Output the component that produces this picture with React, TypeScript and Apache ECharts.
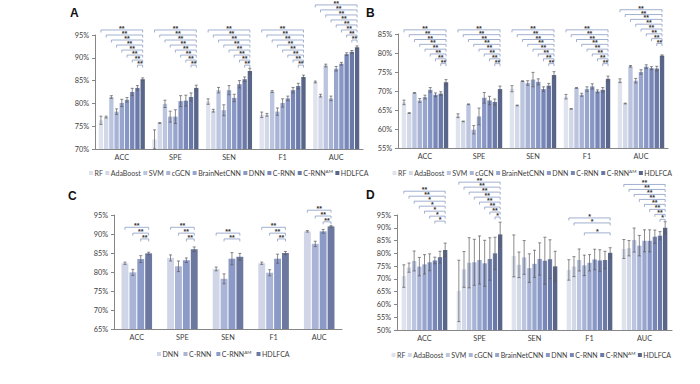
import React, { useEffect, useRef } from "react";
import * as echarts from "echarts";

const FONT = 'Lato, "Liberation Sans", sans-serif';

const metrics = ["ACC", "SPE", "SEN", "F1", "AUC"];
const methodsAll = ["RF", "AdaBoost", "SVM", "cGCN", "BrainNetCNN", "DNN", "C-RNN", "C-RNN^AM", "HDLFCA"];
const methodsC = ["DNN", "C-RNN", "C-RNN^AM", "HDLFCA"];

// rows = metrics (ACC, SPE, SEN, F1, AUC), columns = methods
const valuesA = [
  [76.3, 77.0, 81.4, 78.2, 80.1, 80.8, 82.5, 83.4, 85.3],
  [72.1, 75.7, 79.9, 77.1, 77.1, 80.5, 80.6, 81.4, 83.4],
  [80.4, 78.4, 82.9, 78.5, 82.9, 81.2, 84.2, 85.3, 87.1],
  [77.5, 77.5, 82.6, 78.2, 80.1, 81.1, 82.9, 83.8, 85.8],
  [84.7, 81.7, 88.3, 81.1, 87.6, 88.7, 90.8, 91.3, 92.3],
];
const errorsA = [
  [0.9, 0.2, 0.3, 0.6, 0.8, 0.5, 0.8, 0.5, 0.3],
  [2.1, 0.1, 0.8, 1.2, 1.5, 1.2, 1.2, 0.9, 0.6],
  [0.6, 0.3, 0.6, 1.2, 1.0, 0.8, 0.8, 0.5, 0.6],
  [0.6, 0.3, 0.2, 0.8, 0.9, 0.5, 0.6, 0.6, 0.4],
  [0.2, 0.3, 0.3, 0.5, 0.5, 0.3, 0.3, 0.3, 0.3],
];
const valuesB = [
  [67.0, 64.2, 69.5, 67.5, 68.4, 70.3, 69.0, 69.3, 72.3],
  [63.5, 62.0, 66.5, 59.8, 63.3, 68.2, 67.5, 67.1, 70.5],
  [70.6, 66.2, 72.6, 72.1, 73.0, 72.4, 70.5, 71.4, 74.2],
  [68.5, 65.3, 70.8, 69.0, 70.5, 71.2, 69.9, 70.3, 73.2],
  [72.7, 66.7, 76.5, 72.7, 75.0, 76.4, 76.0, 75.9, 79.3],
];
const errorsB = [
  [0.6, 0.1, 0.1, 0.5, 0.5, 0.6, 0.5, 0.5, 0.7],
  [0.5, 0.1, 0.1, 1.1, 2.2, 1.4, 1.1, 0.8, 0.8],
  [0.8, 0.1, 0.1, 0.6, 1.9, 0.8, 0.6, 0.6, 0.9],
  [0.6, 0.1, 0.1, 0.4, 0.6, 0.7, 0.4, 0.6, 0.7],
  [0.5, 0.1, 0.2, 0.6, 0.6, 0.5, 0.4, 0.6, 0.2],
];
const valuesC = [
  [82.3, 79.9, 83.4, 84.9],
  [83.7, 81.5, 83.1, 86.0],
  [80.8, 78.2, 83.5, 84.0],
  [82.3, 79.8, 83.5, 85.0],
  [90.7, 87.4, 90.7, 92.0],
];
const errorsC = [
  [0.3, 0.8, 0.9, 0.3],
  [0.8, 1.4, 0.6, 0.6],
  [0.5, 1.3, 1.6, 0.9],
  [0.3, 0.8, 1.2, 0.4],
  [0.2, 0.7, 0.5, 0.2],
];
const valuesD = [
  [71.1, 74.4, 77.0, 74.8, 75.7, 76.5, 77.2, 78.5, 81.3],
  [65.3, 73.7, 76.3, 76.5, 77.4, 76.1, 77.8, 80.0, 87.4],
  [79.0, 75.5, 78.4, 74.2, 75.9, 77.8, 77.1, 77.7, 74.9],
  [73.5, 74.8, 77.4, 75.3, 76.3, 77.6, 77.2, 77.4, 80.2],
  [81.7, 82.0, 85.2, 83.0, 84.9, 84.9, 86.5, 86.9, 90.0],
];
const errorsD = [
  [4.4, 1.8, 3.9, 3.6, 3.8, 3.3, 1.3, 2.3, 2.7],
  [12.0, 7.0, 9.8, 9.0, 9.4, 9.0, 8.3, 6.3, 4.8],
  [8.2, 5.0, 6.6, 5.6, 5.3, 6.3, 9.2, 7.6, 5.9],
  [4.0, 3.9, 4.3, 4.0, 3.2, 4.0, 4.2, 3.4, 2.0],
  [3.7, 3.0, 4.7, 4.0, 4.3, 4.3, 2.6, 1.6, 2.4],
];

// significance vs HDLFCA: index = compared method, 2 = "**", 1 = "*", 0 = none
const sigA = [
  [2, 2, 2, 2, 2, 2, 2, 2],
  [2, 2, 2, 2, 2, 2, 2, 2],
  [2, 2, 2, 2, 2, 2, 2, 2],
  [2, 2, 2, 2, 2, 2, 2, 2],
  [2, 2, 2, 2, 2, 2, 2, 2],
];
const sigB = [
  [2, 2, 2, 2, 2, 2, 2, 2],
  [2, 2, 2, 2, 2, 2, 2, 2],
  [2, 2, 2, 2, 2, 2, 2, 2],
  [2, 2, 2, 2, 2, 2, 2, 2],
  [2, 2, 2, 2, 2, 2, 2, 2],
];
const sigC = [
  [2, 2, 2],
  [2, 2, 2],
  [2, 2, 0],
  [2, 2, 2],
  [2, 2, 2],
];
const sigD = [
  [2, 2, 1, 1, 1, 1, 1, 0],
  [2, 2, 2, 2, 2, 2, 2, 1],
  [0, 0, 0, 0, 0, 0, 0, 0],
  [1, 1, 0, 1, 0, 0, 0, 0],
  [2, 2, 2, 2, 2, 2, 2, 1],
];

const colorsAll = ["#dfe3ee", "#d2d8e8", "#bcc5df", "#a8b3d6", "#98a6ce", "#8897c5", "#7887b8", "#6a79a8", "#59668a"];
const colorsC = ["#d0d6e7", "#a9b4d6", "#8c9ac8", "#6c789f"];

const LEGEND_FONT = 7;

const panels = [
  {
    letter: "A", letterPos: [70, 7], methods: methodsAll, colors: colorsAll, values: valuesA, errors: errorsA, sig: sigA,
    grid: { left: 95, top: 35, width: 268, height: 114 }, yMin: 70, yMax: 95, barGap: 0.2, catGap: 0.14,
    bracketBase: [88.4, 88.4, 88.4, 88.4, 93.9], bracketStep: 1.1, legend: [89, 173, 2.5],
  },
  {
    letter: "B", letterPos: [366, 7], methods: methodsAll, colors: colorsAll, values: valuesB, errors: errorsB, sig: sigB,
    grid: { left: 398, top: 34, width: 270, height: 114 }, yMin: 55, yMax: 85, barGap: 0.2, catGap: 0.14,
    bracketBase: [77.2, 77.2, 77.2, 77.2, 82.5], bracketStep: 1.27, legend: [392.5, 173, 2.5],
  },
  {
    letter: "C", letterPos: [68, 190], methods: methodsC, colors: colorsC, values: valuesC, errors: errorsC, sig: sigC,
    grid: { left: 114, top: 215, width: 228, height: 114 }, yMin: 65, yMax: 95, barGap: 0.15, catGap: 0.33,
    bracketBase: [88.7, 88.7, 88.7, 88.7, 93.2], bracketStep: 1.53, legend: [157, 354, 5],
  },
  {
    letter: "D", letterPos: [366, 189], methods: methodsAll, colors: colorsAll, values: valuesD, errors: errorsD, sig: sigD,
    grid: { left: 397, top: 215, width: 275, height: 115 }, yMin: 50, yMax: 95, barGap: 0.2, catGap: 0.17,
    bracketBase: [92.6, 94.2, 90, 88.0, 93.3], bracketStep: 1.95, legend: [391.5, 355, 2.5],
  },
];

let measureCtx: CanvasRenderingContext2D | null = null;
function textWidth(s: string, size: number) {
  if (!measureCtx) measureCtx = document.createElement("canvas").getContext("2d");
  if (!measureCtx) return s.length * size * 0.6;
  measureCtx.font = `${size}px ${FONT}`;
  return measureCtx.measureText(s).width;
}

function buildLegend(p: any) {
  const els: any[] = [];
  let x = p.legend[0];
  const cy = p.legend[1];
  const supSize = LEGEND_FONT * 0.65;
  p.methods.forEach((m: string, i: number) => {
    const isAM = m === "C-RNN^AM";
    els.push({
      type: "rect",
      silent: true,
      shape: { x, y: cy - 2, width: 4, height: 4 },
      style: { fill: p.colors[i] },
    });
    els.push({
      type: "text",
      silent: true,
      x: x + 5.5,
      y: cy,
      style: {
        text: isAM ? "C-RNN{sup|AM}" : m,
        fontSize: LEGEND_FONT,
        fontFamily: FONT,
        fill: "#404040",
        align: "left",
        verticalAlign: "middle",
        rich: {
          sup: { fontSize: supSize, fontFamily: FONT, fill: "#404040", verticalAlign: "top", padding: [0, 0, 3, 0] },
        },
      },
    });
    const w = isAM ? textWidth("C-RNN", LEGEND_FONT) + textWidth("AM", supSize) : textWidth(m, LEGEND_FONT);
    x += 5.5 + w + p.legend[2];
  });
  return els;
}

function buildOption(p: any) {
  const n = p.methods.length;
  const gapR = p.barGap;
  const catR = p.catGap;
  const offsetOf = (band: number, i: number) => {
    const usable = band * (1 - catR);
    const w = usable / (n + (n - 1) * gapR);
    const total = n * w + (n - 1) * gapR * w;
    return -total / 2 + i * w * (1 + gapR) + w / 2;
  };

  const bars = p.methods.map((m: string, i: number) => ({
    type: "bar",
    name: m,
    data: p.values.map((row: number[]) => row[i]),
    barGap: `${gapR * 100}%`,
    barCategoryGap: `${catR * 100}%`,
    itemStyle: { color: p.colors[i] },
    silent: true,
  }));

  const errData: number[][] = [];
  p.values.forEach((row: number[], g: number) =>
    row.forEach((v: number, i: number) => errData.push([g, v, i, p.errors[g][i]]))
  );
  const errSeries = {
    type: "custom",
    silent: true,
    z: 5,
    clip: false,
    data: errData,
    renderItem: (_params: any, api: any) => {
      const g = api.value(0), v = api.value(1), i = api.value(2), e = api.value(3);
      const band = api.size([1, 0])[0];
      const cx = api.coord([g, v])[0] + offsetOf(band, i);
      const yt = api.coord([g, v + e])[1];
      const yb = api.coord([g, Math.max(v - e, p.yMin)])[1];
      const cap = 1.5;
      const st = { stroke: "#5a5a5a", lineWidth: 0.7 };
      return {
        type: "group",
        children: [
          { type: "line", shape: { x1: cx, y1: yt, x2: cx, y2: yb }, style: st },
          { type: "line", shape: { x1: cx - cap, y1: yt, x2: cx + cap, y2: yt }, style: st },
          { type: "line", shape: { x1: cx - cap, y1: yb, x2: cx + cap, y2: yb }, style: st },
        ],
      };
    },
  };

  const brData: number[][] = [];
  p.sig.forEach((row: number[], g: number) => {
    const spans = row.map((s, f) => (s ? n - 1 - f : Infinity));
    const minSpan = Math.min(...spans);
    row.forEach((s, f) => {
      if (!s) return;
      const level = n - 1 - f - minSpan;
      brData.push([g, p.bracketBase[g] + level * p.bracketStep, f, n - 1, s]);
    });
  });
  const brSeries = {
    type: "custom",
    silent: true,
    z: 6,
    clip: false,
    data: brData,
    renderItem: (_params: any, api: any) => {
      const g = api.value(0), y = api.value(1), f = api.value(2), t = api.value(3), s = api.value(4);
      const band = api.size([1, 0])[0];
      const c = api.coord([g, y]);
      const x1 = c[0] + offsetOf(band, f);
      const x2 = c[0] + offsetOf(band, t);
      const yy = c[1];
      return {
        type: "group",
        children: [
          {
            type: "polyline",
            shape: { points: [[x1, yy + 2.5], [x1, yy], [x2, yy], [x2, yy + 2.5]] },
            style: { stroke: "#8a9cc4", lineWidth: 0.8, fill: "none" },
          },
          {
            type: "text",
            style: {
              text: s === 2 ? "**" : "*",
              x: (x1 + x2) / 2,
              y: yy + 0.5,
              align: "center",
              verticalAlign: "bottom",
              fontSize: 7,
              lineHeight: 4,
              fontWeight: "bold",
              fill: "#333333",
              fontFamily: "Liberation Sans, sans-serif",
            },
          },
        ],
      };
    },
  };

  return {
    animation: false,
    backgroundColor: "transparent",
    title: {
      text: p.letter,
      left: p.letterPos[0],
      top: p.letterPos[1],
      padding: 0,
      textStyle: { fontSize: 12, fontWeight: "bold", color: "#111", fontFamily: "Liberation Sans, sans-serif" },
    },
    graphic: buildLegend(p),
    grid: { ...p.grid, containLabel: false },
    xAxis: {
      type: "category",
      data: metrics,
      axisTick: { show: false },
      axisLine: { lineStyle: { color: "#868686", width: 1 } },
      axisLabel: { color: "#404040", fontSize: 7.3, fontFamily: FONT, margin: 5 },
      splitLine: { show: false },
    },
    yAxis: {
      type: "value",
      min: p.yMin,
      max: p.yMax,
      interval: 5,
      axisLine: { show: true, lineStyle: { color: "#868686" } },
      axisTick: { show: true, length: 3, lineStyle: { color: "#868686" } },
      splitLine: { show: false },
      axisLabel: { formatter: "{value}%", fontSize: 7.3, color: "#404040", fontFamily: FONT, margin: 6 },
    },
    series: [...bars, errSeries, brSeries],
  };
}

function PanelChart({ cfg }: { cfg: any }) {
  const ref = useRef<HTMLDivElement>(null);
  useEffect(() => {
    const chart = echarts.init(ref.current as HTMLDivElement, null, { renderer: "svg" });
    chart.setOption(buildOption(cfg) as any);
    let alive = true;
    const fontsApi = (document as any).fonts;
    if (fontsApi && fontsApi.load) {
      Promise.all([fontsApi.load(`${LEGEND_FONT}px Lato`), fontsApi.load(`7px "Liberation Sans"`)])
        .then(() => {
          if (!alive) return;
          chart.setOption(buildOption(cfg) as any, { notMerge: true });
        })
        .catch(() => undefined);
    }
    return () => {
      alive = false;
      chart.dispose();
    };
  }, [cfg]);
  return <div ref={ref} style={{ position: "absolute", left: 0, top: 0, width: 700, height: 384 }} />;
}

export default function App() {
  return (
    <div style={{ position: "fixed", left: 0, top: 0, width: 700, height: 384, background: "#ffffff", overflow: "hidden" }}>
      {panels.map((p) => (
        <PanelChart key={p.letter} cfg={p} />
      ))}
    </div>
  );
}
